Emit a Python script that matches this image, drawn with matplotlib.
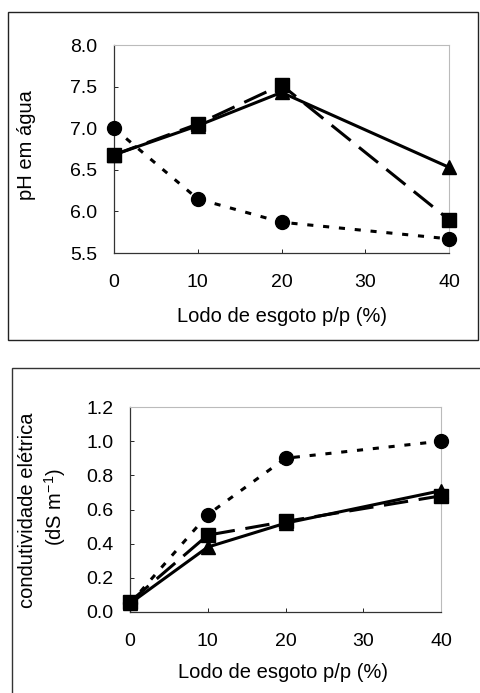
import matplotlib.pyplot as plt
from matplotlib.patches import Rectangle

plt.rcParams['font.family'] = ['Liberation Sans', 'DejaVu Sans']

# dados
lodo = [0, 10, 20, 40]
ph_circ = [7.00, 6.15, 5.87, 5.67]
ph_quad = [6.68, 7.05, 7.52, 5.90]
ph_tri = [6.68, 7.03, 7.43, 6.53]
ce_circ = [0.05, 0.57, 0.90, 1.00]
ce_quad = [0.06, 0.45, 0.53, 0.68]
ce_tri = [0.05, 0.38, 0.52, 0.71]

W, H = 480, 693
fig = plt.figure(figsize=(W / 100, H / 100), dpi=100)
FS = 14.5   # rotulos
FT = 14     # ticks


def ax_px(x0, y0, x1, y1):
    return fig.add_axes([x0 / W, 1 - y1 / H, (x1 - x0) / W, (y1 - y0) / H])


# molduras dos paineis
fig.patches.append(Rectangle((8 / W, 1 - 340 / H), 470 / W, 328 / H, transform=fig.transFigure,
                             fill=False, edgecolor='#222222', lw=1.0))
fig.patches.append(Rectangle((12 / W, -0.01), 0.99, 1 - 368 / H + 0.01, transform=fig.transFigure,
                             fill=False, edgecolor='#333333', lw=1.0))


def estilo(ax):
    for s in ['top', 'right']:
        ax.spines[s].set_color('#bbbbbb')
        ax.spines[s].set_linewidth(0.8)
    for s in ['left', 'bottom']:
        ax.spines[s].set_color('#333333')
        ax.spines[s].set_linewidth(0.9)
    ax.tick_params(direction='in', length=3, width=0.6, labelsize=FT)
    ax.tick_params(axis='y', pad=12)
    ax.tick_params(axis='x', pad=15)
    ax.set_xticks([0, 10, 20, 30, 40])
    ax.set_xlim(0, 40)


def series(ax, c, q, t):
    kw = dict(color='black', lw=2.2, markersize=10, clip_on=False, zorder=3)
    ax.plot(lodo, c, marker='o', linestyle=(0, (2, 3.2)), **kw)
    ax.plot(lodo, q, marker='s', linestyle=(0, (8, 3.5)), **kw)
    ax.plot(lodo, t, marker='^', linestyle='-', **kw)


# pH
ax1 = ax_px(114, 45, 449, 253)
series(ax1, ph_circ, ph_quad, ph_tri)
estilo(ax1)
ax1.set_ylim(5.5, 8.0)
ax1.set_yticks([5.5, 6.0, 6.5, 7.0, 7.5, 8.0])
ax1.set_yticklabels(['5.5', '6.0', '6.5', '7.0', '7.5', '8.0'])
fig.text(27 / W, 1 - 145 / H, 'pH em água', fontsize=FS, rotation=90, ha='center', va='center')
fig.text(282 / W, 1 - 317 / H, 'Lodo de esgoto p/p (%)', fontsize=FS, ha='center', va='center')

# condutividade
ax2 = ax_px(130, 407, 441, 612)
series(ax2, ce_circ, ce_quad, ce_tri)
estilo(ax2)
ax2.set_ylim(0.0, 1.2)
ax2.set_yticks([0.0, 0.2, 0.4, 0.6, 0.8, 1.0, 1.2])
ax2.set_yticklabels(['0.0', '0.2', '0.4', '0.6', '0.8', '1.0', '1.2'])
fig.text(28 / W, 1 - 510 / H, 'condutividade elétrica', fontsize=FS, rotation=90, ha='center', va='center')
fig.text(55 / W, 1 - 507 / H, '(dS m$^{\\mathregular{-1}}$)', fontsize=FS, rotation=90, ha='center', va='center')
fig.text(283 / W, 1 - 673 / H, 'Lodo de esgoto p/p (%)', fontsize=FS, ha='center', va='center')

fig.savefig('out.png', dpi=100)
